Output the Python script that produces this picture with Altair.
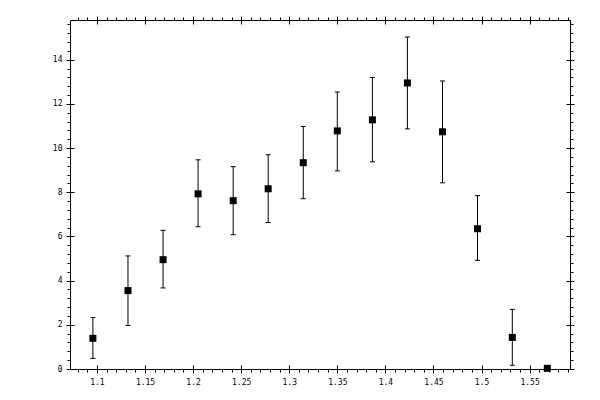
import altair as alt
import pandas as pd

x_vals = [1.0958, 1.1323, 1.1688, 1.2052, 1.2417, 1.2781, 1.3146,
          1.3500, 1.3865, 1.4229, 1.4594, 1.4958, 1.5320, 1.5684]
y_vals = [1.39, 3.55, 4.95, 7.93, 7.62, 8.16, 9.34,
          10.78, 11.28, 12.95, 10.74, 6.35, 1.43, 0.03]
y_lo = [0.48, 1.97, 3.67, 6.44, 6.08, 6.63, 7.71,
        8.97, 9.38, 10.87, 8.43, 4.92, 0.17, 0.03]
y_hi = [2.33, 5.12, 6.28, 9.47, 9.16, 9.70, 10.98,
        12.54, 13.20, 15.03, 13.04, 7.85, 2.70, 0.03]

# tick labels
x_major = [1.1, 1.15, 1.2, 1.25, 1.3, 1.35, 1.4, 1.45, 1.5, 1.55]
y_major = [0, 2, 4, 6, 8, 10, 12, 14]
x_minor = [round(1.08 + 0.01 * i, 2) for i in range(52)]
y_minor = [round(0.4 * i, 1) for i in range(40)]

FONT = "DejaVu Sans Mono"

df = pd.DataFrame({"x": x_vals, "y": y_vals, "lo": y_lo, "hi": y_hi})

xs = alt.Scale(domain=[1.072, 1.592], nice=False, zero=False)
ys = alt.Scale(domain=[0, 15.8], nice=False, zero=False)


def ax(orient, values, size, offset=0, labels=False, pad=4):
    """One axis: major ticks cross the frame (offset -4, size 8), minor ones stick out."""
    return alt.Axis(
        orient=orient, values=values, tickSize=size, offset=offset,
        labels=labels, domain=False, grid=False, title=None,
        tickColor="black", tickWidth=1, labelColor="black",
        labelFont=FONT, labelFontSize=8, labelPadding=pad, format="~g",
    )


rules = alt.Chart(df).mark_rule(color="black", strokeWidth=1).encode(
    x=alt.X("x:Q", scale=xs, axis=ax("bottom", x_major, 8, -4, True, 5)),
    y=alt.Y("lo:Q", scale=ys, axis=ax("left", y_major, 8, -4, True, 4)),
    y2="hi:Q",
)

caps_lo = alt.Chart(df).mark_tick(
    orient="horizontal", size=5, thickness=1, color="black", opacity=1
).encode(
    x=alt.X("x:Q", scale=xs, axis=ax("bottom", x_minor, 3)),
    y=alt.Y("lo:Q", scale=ys, axis=ax("left", y_minor, 3)),
)

caps_hi = alt.Chart(df).mark_tick(
    orient="horizontal", size=5, thickness=1, color="black", opacity=1
).encode(
    x=alt.X("x:Q", scale=xs, axis=ax("top", x_major, 8, -4)),
    y=alt.Y("hi:Q", scale=ys, axis=ax("right", y_major, 8, -4)),
)

points = alt.Chart(df).mark_point(
    shape="square", filled=True, size=49, color="black", opacity=1
).encode(
    x=alt.X("x:Q", scale=xs, axis=ax("top", x_minor, 3)),
    y=alt.Y("y:Q", scale=ys, axis=ax("right", y_minor, 3)),
)

chart = (
    alt.layer(rules, caps_lo, caps_hi, points)
    .resolve_axis(x="independent", y="independent")
    .properties(
        width=500, height=349, autosize="none",
        padding={"left": 62, "top": 12, "right": 20, "bottom": 25},
        background="white",
    )
    .configure_view(stroke="black", strokeWidth=1)
)

chart.save("out.html", embed_options={"renderer": "svg", "actions": False})
